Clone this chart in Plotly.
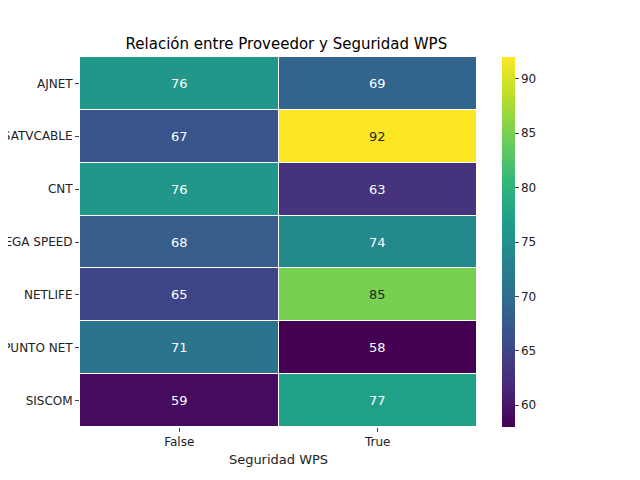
import plotly.graph_objects as go

proveedores = ["AJNET", "SATVCABLE", "CNT", "MEGA SPEED", "NETLIFE", "PUNTO NET", "SISCOM"]
wps = ["False", "True"]
valores = [
    [76, 69],
    [67, 92],
    [76, 63],
    [68, 74],
    [65, 85],
    [71, 58],
    [59, 77],
]

zmin, zmax = 58, 92

fig = go.Figure()
fig.add_trace(go.Heatmap(
    z=valores, x=wps, y=proveedores, colorscale="Viridis", zmin=zmin, zmax=zmax,
    xgap=1, ygap=1, showscale=True,
    colorbar=dict(x=1.063, xanchor="left", xpad=0, ypad=0, thickness=13, len=1, y=0.5,
                  outlinewidth=0, tickvals=[60, 65, 70, 75, 80, 85, 90], ticks="outside",
                  ticklen=4, tickfont=dict(size=12, color="#222")),
))

# value labels, dark text on light cells like seaborn
for i, fila in enumerate(valores):
    for j, v in enumerate(fila):
        claro = (v - zmin) / (zmax - zmin) > 0.6
        fig.add_annotation(x=wps[j], y=proveedores[i], text=str(v), showarrow=False,
                           font=dict(size=13, color="#262626" if claro else "white"))

fig.update_layout(
    width=640, height=480, plot_bgcolor="white", paper_bgcolor="white",
    margin=dict(l=72, r=171, t=49, b=61),
    font=dict(family="DejaVu Sans", size=12, color="#222"),
    title=dict(text="Relación entre Proveedor y Seguridad WPS", x=0.435, xanchor="center",
               y=0.925, yanchor="middle", font=dict(size=15, color="black")),
    xaxis=dict(title=dict(text="Seguridad WPS", standoff=6, font=dict(size=13)),
               ticks="outside", ticklen=4, showgrid=False, automargin=False),
    yaxis=dict(autorange="reversed", ticks="outside", ticklen=4, showgrid=False,
               automargin=False),
)

fig.write_html("out.html")
